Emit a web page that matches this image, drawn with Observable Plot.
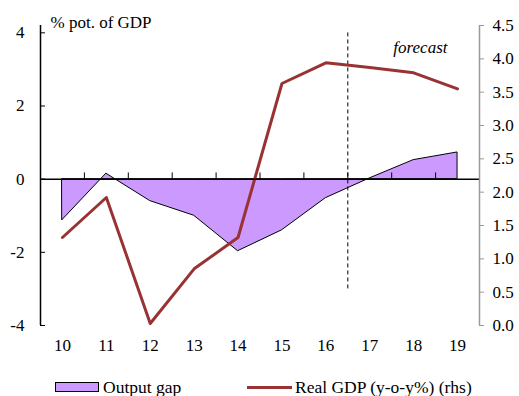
<!DOCTYPE html>
<html>
<head>
<meta charset="utf-8">
<script src="https://cdn.jsdelivr.net/npm/d3@7"></script>
<script src="https://cdn.jsdelivr.net/npm/@observablehq/plot@0.6"></script>
<style>
  body { margin: 0; background: #fff; font-family: "Liberation Serif", "Times New Roman", serif; }
  #wrap { position: relative; width: 519px; height: 396px; }
  #chart svg, #chart svg text { font-family: "Liberation Serif", "Times New Roman", serif !important; }
  #legend { position: relative; width: 519px; height: 34px; font-size: 17.5px; color: #000; font-family: "Liberation Serif", "Times New Roman", serif; }
  .lg { position: absolute; white-space: nowrap; }
</style>
</head>
<body>
<div id="wrap">
  <div id="chart"></div>
  <div id="legend">
    <div class="lg" style="left:55px;top:20px;width:44px;height:10px;background:#cc99ff;border:1.5px solid #000;box-sizing:border-box;"></div>
    <div class="lg" style="left:103px;top:14px;line-height:22px;">Output gap</div>
    <div class="lg" style="left:247px;top:23.5px;width:45px;height:3px;background:#993333;"></div>
    <div class="lg" style="left:295px;top:14px;line-height:22px;">Real GDP (y-o-y%) (rhs)</div>
  </div>
</div>
<script>
// Data
const years = [10, 11, 12, 13, 14, 15, 16, 17, 18, 19];
const outputGap = [-1.12, 0.15, -0.6, -1.0, -1.97, -1.4, -0.52, 0.02, 0.52, 0.73];
const realGDP = [1.32, 1.92, 0.03, 0.85, 1.32, 3.63, 3.94, 3.87, 3.79, 3.55];
const leftTicks = [-4, -2, 0, 2, 4];
const rightTicks = [0, 0.5, 1, 1.5, 2, 2.5, 3, 3.5, 4, 4.5];
const forecastStart = 16.5;

// Left scale domain and mapping of the right-hand axis onto it
const leftMin = -4, leftMax = 4.2;
const rightMin = 0, rightMax = 4.5;
const toLeft = v => leftMin + (v - rightMin) * (leftMax - leftMin) / (rightMax - rightMin);
const fromLeft = v => rightMin + (v - leftMin) * (rightMax - rightMin) / (leftMax - leftMin);

const gapData = years.map((y, i) => ({year: y, value: outputGap[i]}));
const gdpData = years.map((y, i) => ({year: y, value: toLeft(realGDP[i])}));
const boundaries = years.slice(0, -1).map(y => y + 0.5);

const W = 519, H = 362, mL = 40, mR = 40, mT = 25, mB = 37;
const plotW = W - mL - mR;
const serif = "Liberation Serif, Times New Roman, serif";

const chart = Plot.plot({
  width: W,
  height: H,
  marginLeft: mL,
  marginRight: mR,
  marginTop: mT,
  marginBottom: mB,
  style: {fontFamily: serif, fontSize: "17px", color: "#000", background: "#fff", overflow: "visible"},
  x: {type: "linear", domain: [years[0] - 0.5, years[years.length - 1] + 0.5], axis: null, label: null},
  y: {domain: [leftMin, leftMax], axis: null, label: null},
  marks: [
    Plot.areaY(gapData, {x: "year", y: "value", fill: "#cc99ff", stroke: "#000", strokeWidth: 1, curve: "linear"}),
    Plot.ruleX([forecastStart], {y1: -3, y2: 4.05, stroke: "#000", strokeWidth: 1, strokeDasharray: "4,3"}),
    Plot.line(gdpData, {x: "year", y: "value", stroke: "#993333", strokeWidth: 3}),
    // zero line with upward ticks at category boundaries
    Plot.ruleY([0], {stroke: "#000", strokeWidth: 1.5}),
    Plot.ruleX(boundaries, {y1: 0, y2: 0.17, stroke: "#000", strokeWidth: 1}),
    // left axis
    Plot.ruleX([years[0] - 0.5], {y1: leftMin, y2: leftMax, stroke: "#000", strokeWidth: 1.5}),
    Plot.ruleY(leftTicks, {y: d => d, insetRight: plotW - 5, stroke: "#000", strokeWidth: 1}),
    Plot.axisY(leftTicks, {anchor: "left", label: null, tickSize: 0, tickPadding: 16, fontFamily: serif, fontSize: 17, tickFormat: d => String(d)}),
    // right axis (rhs)
    Plot.ruleX([years[years.length - 1] + 0.5], {y1: leftMin, y2: leftMax, stroke: "#999", strokeWidth: 1.5}),
    Plot.ruleY(rightTicks.map(toLeft), {y: d => d, insetLeft: plotW, insetRight: -5, stroke: "#999", strokeWidth: 1}),
    Plot.axisY(rightTicks.map(toLeft), {anchor: "right", label: null, tickSize: 0, tickPadding: 13, fontFamily: serif, fontSize: 17, tickFormat: d => fromLeft(d).toFixed(1)}),
    // x axis labels
    Plot.axisX(years, {anchor: "bottom", label: null, tickSize: 0, tickPadding: 13, fontFamily: serif, fontSize: 17, tickFormat: d => String(d)}),
    // annotations
    Plot.text(["% pot. of GDP"], {frameAnchor: "top-left", dx: 10, dy: -3, textAnchor: "start", lineAnchor: "middle", fontFamily: serif, fontSize: 17}),
    Plot.text(["forecast"], {frameAnchor: "top-right", dx: -32, dy: 22, textAnchor: "end", lineAnchor: "middle", fontStyle: "italic", fontFamily: serif, fontSize: 17})
  ]
});
document.getElementById("chart").appendChild(chart);
</script>
</body>
</html>
